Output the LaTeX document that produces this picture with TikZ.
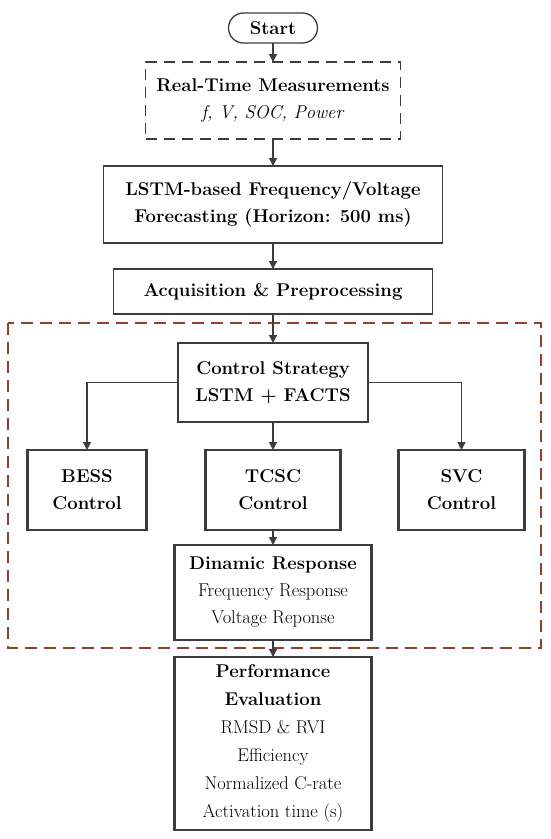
\documentclass[tikz,border=0pt]{standalone}
\usepackage{tikz}
\usetikzlibrary{arrows.meta,positioning,shapes.misc}

\definecolor{linegray}{HTML}{3C3C3C}
\definecolor{framered}{HTML}{93402A}

\begin{document}
\begin{tikzpicture}[x=1pt, y=-1pt, >={Triangle[length=8pt,width=8pt]},
  every node/.style={font=\fontsize{18.5}{27}\selectfont, align=center},
  box/.style={draw=linegray, line width=1.3pt, inner sep=2pt, outer sep=0pt},
  heavybox/.style={draw=linegray, line width=2.2pt, inner sep=2pt, outer sep=0pt},
  flow/.style={->, draw=linegray, line width=1.4pt}]
  \useasboundingbox (0,0) rectangle (550,839);

  % Nodes
  \node[box, rounded rectangle, minimum width=93pt, minimum height=30pt]
        (start) at (273,28) {\textbf{Start}};
  \node[box, dashed, dash pattern=on 11pt off 7pt, minimum width=255pt,
        minimum height=77pt, below=19pt of start]
        (meas) {\textbf{Real-Time Measurements}\\ \textit{f, V, SOC, Power}};
  \node[box, minimum width=339pt, minimum height=77pt, below=27pt of meas]
        (lstm) {\textbf{LSTM-based Frequency/Voltage}\\
                \textbf{Forecasting (Horizon: 500 ms)}};
  \node[box, minimum width=319pt, minimum height=45pt, below=26pt of lstm]
        (acq) {\textbf{Acquisition \& Preprocessing}};

  \node[heavybox, minimum width=190pt, minimum height=79pt, below=29pt of acq]
        (ctrl) {\textbf{Control Strategy}\\ \textbf{LSTM + FACTS}};
  \node[heavybox, minimum width=135pt, minimum height=80pt, below=28pt of ctrl]
        (tcsc) {\textbf{TCSC}\\ \textbf{Control}};
  \node[heavybox, minimum width=119pt, minimum height=80pt, left=59pt of tcsc]
        (bess) {\textbf{BESS}\\ \textbf{Control}};
  \node[heavybox, minimum width=126pt, minimum height=80pt, right=58pt of tcsc]
        (svc) {\textbf{SVC}\\ \textbf{Control}};
  \node[heavybox, minimum width=197pt, minimum height=95pt, below=15pt of tcsc]
        (dyn) {\textbf{Dinamic Response}\\ Frequency Response\\ Voltage Reponse};
  \node[heavybox, minimum width=197pt, minimum height=173pt, below=17pt of dyn,
        font=\fontsize{18.5}{28}\selectfont]
        (perf) {\textbf{Performance}\\ \textbf{Evaluation}\\ RMSD \& RVI\\
                Efficiency\\ Normalized C-rate\\ Activation time (s)};

  % Frame round the control stage
  \draw[framered, line width=1.1pt, dash pattern=on 12pt off 7pt]
    (8,323) rectangle (541,648);

  % Arrows
  \draw[flow] (start) -- (meas);
  \draw[flow] (meas) -- (lstm);
  \draw[flow] (lstm) -- (acq);
  \draw[flow] (acq) -- (ctrl);
  \draw[flow] (ctrl) -- (tcsc);
  \draw[flow] (ctrl.west) -| (bess.north);
  \draw[flow] (ctrl.east) -| (svc.north);
  \draw[flow] (tcsc) -- (dyn);
  \draw[flow] (dyn) -- (perf);
\end{tikzpicture}
\end{document}
